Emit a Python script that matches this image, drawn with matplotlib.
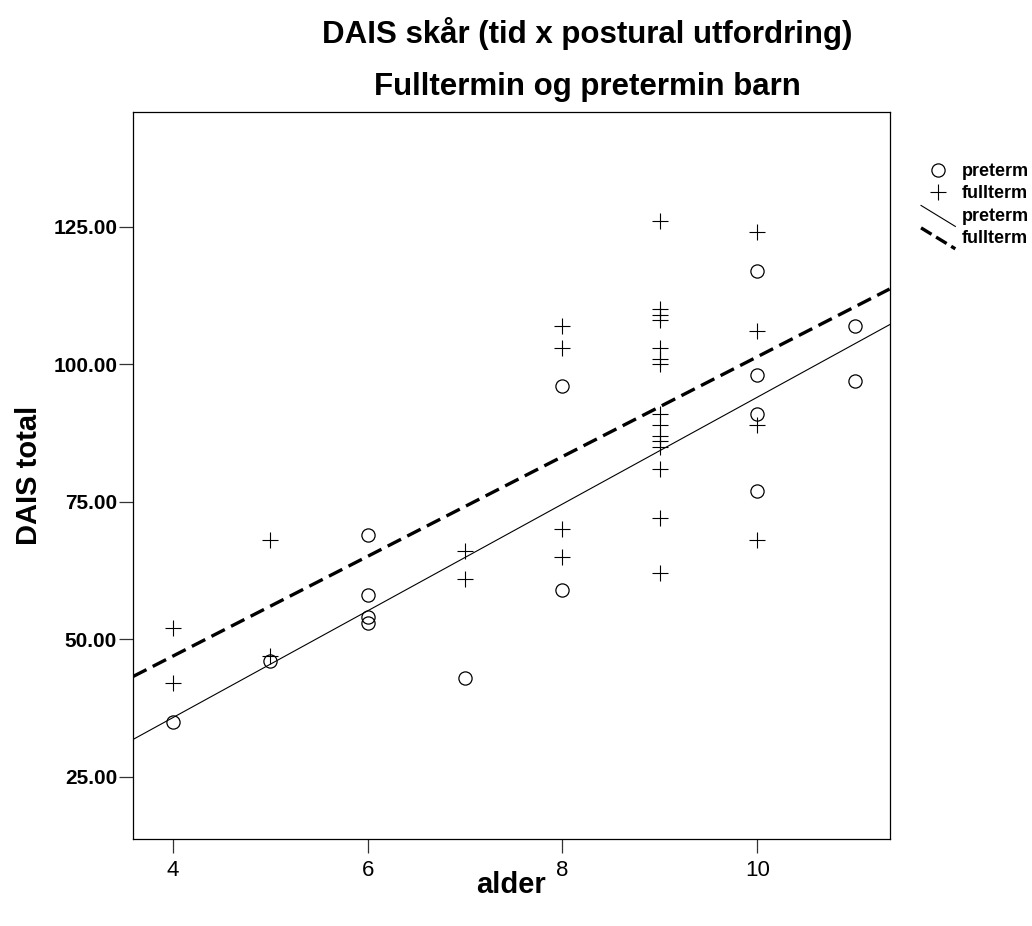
import numpy as np
import matplotlib
matplotlib.use('Agg')
import matplotlib.pyplot as plt
from matplotlib.lines import Line2D
from matplotlib.legend_handler import HandlerBase

plt.rcParams['font.family'] = ['Liberation Sans', 'DejaVu Sans']

# preterm children
pre_alder = [4, 5, 6, 6, 6, 6, 7, 8, 8, 10, 10, 10, 10, 11, 11]
pre_dais = [35, 46, 69, 58, 54, 53, 43, 96, 59, 117, 98, 91, 77, 107, 97]

# fullterm children
full_alder = [4, 4, 5, 5, 7, 7, 8, 8, 8, 8,
              9, 9, 9, 9, 9, 9, 9, 9, 9, 9, 9, 9, 9, 9, 9,
              10, 10, 10, 10]
full_dais = [52, 42, 68, 47, 66, 61, 107, 103, 70, 65,
             126, 110, 109, 108, 103, 101, 100, 91, 89, 87, 86, 85, 81, 72, 62,
             124, 106, 89, 68]

xticks = [4, 6, 8, 10]
yticks = [25, 50, 75, 100, 125]


class DiagHandler(HandlerBase):
    # legend lines drawn as a short diagonal, like the SPSS output
    def create_artists(self, legend, orig, xdescent, ydescent, width, height, fontsize, trans):
        ln = Line2D([-xdescent, width - xdescent], [height + 2, -4],
                    color=orig.get_color(), lw=orig.get_linewidth(),
                    ls=orig.get_linestyle(), transform=trans)
        return [ln]


fig = plt.figure(figsize=(10.32, 9.26), dpi=100)
ax = fig.add_axes([0.129, 0.094, 0.733, 0.785])

xlim = (3.594, 11.357)
ax.set_xlim(*xlim)
ax.set_ylim(13.73, 145.9)

ax.plot(pre_alder, pre_dais, 'o', ms=9.5, mfc='none', mec='black', mew=0.9)
ax.plot(full_alder, full_dais, '+', ms=11, color='black', mew=0.8)

# linear fit per group
xx = np.array(xlim)
b_pre = np.polyfit(pre_alder, pre_dais, 1)
b_full = np.polyfit(full_alder, full_dais, 1)
ax.plot(xx, np.polyval(b_pre, xx), color='black', lw=0.8)
ax.plot(xx, np.polyval(b_full, xx), color='black', lw=2.4, ls=(0, (4.5, 2.1)))

ax.set_xticks(xticks)
ax.set_xticklabels([str(v) for v in xticks], fontsize=16,
                   family=['Liberation Sans Narrow', 'Liberation Sans'])
ax.set_yticks(yticks)
ax.set_yticklabels(['%.2f' % v for v in yticks], fontsize=15, fontweight='bold')
ax.tick_params(axis='x', length=10, width=0.9, color='#333333', pad=5)
ax.tick_params(axis='y', length=10, width=0.9, color='#333333', pad=1.5)
for s in ax.spines.values():
    s.set_linewidth(0.9)

ax.set_xlabel('alder', fontsize=21, fontweight='bold')
ax.xaxis.set_label_coords(0.5, -0.063)
ax.xaxis.label.set_va('center')
ax.set_ylabel('DAIS total', fontsize=21, fontweight='bold')
ax.yaxis.set_label_coords(-0.137, 0.5)
ax.yaxis.label.set_va('center')

fig.text(587 / 1032, 1 - 33 / 926, 'DAIS skår (tid x postural utfordring)',
         fontsize=22.5, fontweight='bold', ha='center', va='center')
fig.text(587 / 1032, 1 - 87 / 926, 'Fulltermin og pretermin barn',
         fontsize=22.5, fontweight='bold', ha='center', va='center')

h1 = Line2D([], [], ls='none', marker='o', ms=9.5, mfc='none', mec='black', mew=0.9)
h2 = Line2D([], [], ls='none', marker='+', ms=11, color='black', mew=0.8)
h3 = Line2D([], [], color='black', lw=0.8)
h4 = Line2D([], [], color='black', lw=2.4, ls=(0, (4.5, 2.1)))
leg = fig.legend([h1, h2, h3, h4], ['preterm', 'fullterm', 'preterm', 'fullterm'],
                 loc='upper left', bbox_to_anchor=(912 / 1032, 1 - 154 / 926),
                 frameon=False, prop={'weight': 'bold', 'size': 13},
                 handlelength=1.9, handletextpad=0.35, labelspacing=0.3,
                 borderpad=0, handler_map={h3: DiagHandler(), h4: DiagHandler()})

fig.savefig('out.png', dpi=100)
